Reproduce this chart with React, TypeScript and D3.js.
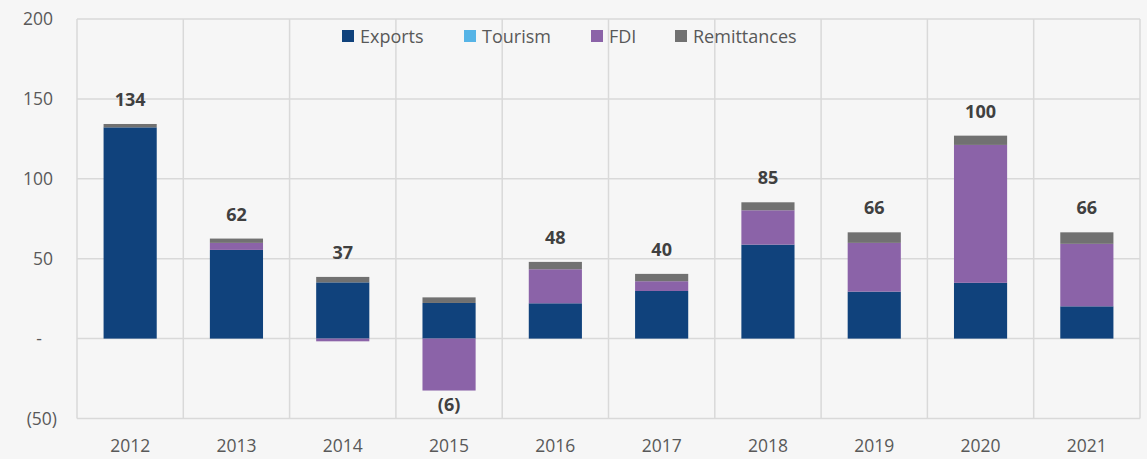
import React from "react";
import * as d3 from "d3";

// --- Data ---
const years = ["2012", "2013", "2014", "2015", "2016", "2017", "2018", "2019", "2020", "2021"];
const exportsVals = [132.2, 55.5, 35.2, 22.3, 22.1, 29.8, 58.8, 29.4, 34.9, 20.2];
const tourismVals = [0, 0, 0, 0, 0, 0, 0, 0, 0, 0];
const fdiVals = [0, 4.4, -1.7, -32.5, 21.3, 6.1, 21.5, 30.5, 86.3, 39.1];
const remittanceVals = [2.1, 2.7, 3.4, 3.5, 4.6, 4.6, 5.0, 6.6, 5.8, 7.2];
const totals = [134, 62, 37, -6, 48, 40, 85, 66, 100, 66];
const yTicks = [-50, 0, 50, 100, 150, 200];

const seriesKeys = ["Exports", "Tourism", "FDI", "Remittances"];
const colors: Record<string, string> = {
  Exports: "#10427c",
  Tourism: "#56b4e6",
  FDI: "#8b63a8",
  Remittances: "#717171",
};

const W = 1147;
const H = 459;
const margin = { top: 19, right: 7, bottom: 40.5, left: 77 };
const FONT = "'Open Sans', 'Noto Sans', sans-serif";

const fmtTick = (v: number) => (v === 0 ? "-" : v < 0 ? `(${Math.abs(v)})` : `${v}`);

export default function App() {
  const rows = years.map((y, i) => ({
    year: y,
    Exports: exportsVals[i],
    Tourism: tourismVals[i],
    FDI: fdiVals[i],
    Remittances: remittanceVals[i],
  }));

  const stacked = d3
    .stack<any>()
    .keys(seriesKeys)
    .offset(d3.stackOffsetDiverging)(rows);

  const x = d3
    .scaleBand()
    .domain(years)
    .range([margin.left, W - margin.right])
    .paddingInner(0.5)
    .paddingOuter(0.25);

  const y = d3.scaleLinear().domain([-50, 200]).range([H - margin.bottom, margin.top]);

  const step = x.step();
  const plotLeft = margin.left;
  const plotRight = W - margin.right;

  // top / bottom extent of each stacked column for label placement
  const extents = years.map((_, i) => {
    let hi = 0;
    let lo = 0;
    stacked.forEach((s) => {
      hi = Math.max(hi, s[i][1]);
      lo = Math.min(lo, s[i][0]);
    });
    return { hi, lo };
  });

  const legendItems = [
    { key: "Exports", x: 342 },
    { key: "Tourism", x: 464 },
    { key: "FDI", x: 591 },
    { key: "Remittances", x: 675 },
  ];

  return (
    <div style={{ position: "fixed", left: 0, top: 0 }}>
      <svg width={W} height={H} style={{ display: "block", background: "#f6f6f6", fontFamily: FONT }}>
        {/* horizontal gridlines */}
        {yTicks.map((t) => (
          <line key={"h" + t} x1={plotLeft} x2={plotRight} y1={y(t)} y2={y(t)} stroke="#d9d9d9" strokeWidth={1.5} />
        ))}
        {/* vertical gridlines at category boundaries */}
        {d3.range(years.length + 1).map((i) => (
          <line
            key={"v" + i}
            x1={plotLeft + i * step}
            x2={plotLeft + i * step}
            y1={y(200)}
            y2={y(-50)}
            stroke="#d9d9d9"
            strokeWidth={1.5}
          />
        ))}

        {/* stacked bars */}
        {stacked.map((s) => (
          <g key={s.key} fill={colors[s.key]}>
            {s.map((d, i) => {
              const y0 = y(Math.max(d[0], d[1]));
              const y1 = y(Math.min(d[0], d[1]));
              if (y1 - y0 <= 0) return null;
              return <rect key={i} x={x(years[i])} y={y0} width={x.bandwidth()} height={y1 - y0} />;
            })}
          </g>
        ))}

        {/* total labels */}
        {totals.map((t, i) => {
          const cx = (x(years[i]) as number) + x.bandwidth() / 2;
          const ly = t >= 0 ? y(extents[i].hi) - 18 : y(extents[i].lo) + 20;
          return (
            <text
              key={"t" + i}
              x={cx}
              y={ly}
              textAnchor="middle"
              fontSize={18}
              fontWeight="bold"
              fill="#404040"
            >
              {t < 0 ? `(${Math.abs(t)})` : t}
            </text>
          );
        })}

        {/* y axis labels */}
        {yTicks.map((t) => (
          <text
            key={"yl" + t}
            x={t === 0 ? 39 : t < 0 ? 57 : 53}
            y={y(t) + 6}
            textAnchor={t === 0 ? "middle" : "end"}
            fontSize={17.5}
            fill="#595959"
          >
            {fmtTick(t)}
          </text>
        ))}

        {/* x axis labels */}
        {years.map((yr) => (
          <text
            key={"xl" + yr}
            x={(x(yr) as number) + x.bandwidth() / 2}
            y={452}
            textAnchor="middle"
            fontSize={17.5}
            fill="#595959"
          >
            {yr}
          </text>
        ))}

        {/* legend */}
        {legendItems.map((it) => (
          <g key={it.key}>
            <rect x={it.x} y={30} width={12} height={12} fill={colors[it.key]} />
            <text x={it.x + 18} y={43} fontSize={18} fill="#595959">
              {it.key}
            </text>
          </g>
        ))}
      </svg>
    </div>
  );
}
